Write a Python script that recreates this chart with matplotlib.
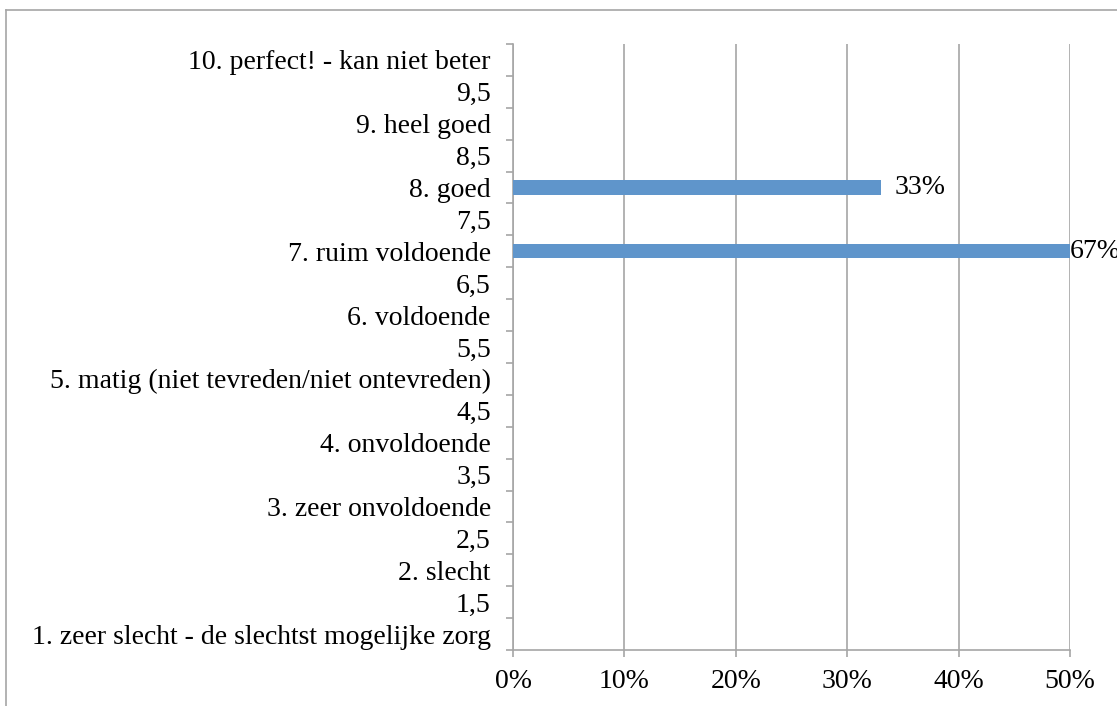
import matplotlib.pyplot as plt
from matplotlib.lines import Line2D
from matplotlib.ticker import FixedLocator, PercentFormatter

categories = [
    "1. zeer slecht - de slechtst mogelijke zorg",
    "1,5",
    "2. slecht",
    "2,5",
    "3. zeer onvoldoende",
    "3,5",
    "4. onvoldoende",
    "4,5",
    "5. matig (niet tevreden/niet ontevreden)",
    "5,5",
    "6. voldoende",
    "6,5",
    "7. ruim voldoende",
    "7,5",
    "8. goed",
    "8,5",
    "9. heel goed",
    "9,5",
    "10. perfect! - kan niet beter",
]
shares = [0, 0, 0, 0, 0, 0, 0, 0, 0, 0, 0, 0, 0.67, 0, 0.33, 0, 0, 0, 0]
x_max = 0.5


def main():
    plt.rcParams["font.family"] = ["Liberation Serif", "DejaVu Serif"]
    plt.rcParams["font.size"] = 20

    fig = plt.figure(figsize=(11.17, 7.06), dpi=100)
    ax = fig.add_axes([0.4593, 0.0793, 0.4987, 0.8584])

    pos = list(range(len(categories)))
    ax.barh(pos, shares, height=0.45, color="#5f95cb", zorder=3)

    for y, v in zip(pos, shares):
        if v <= 0:
            continue
        if v > x_max:
            ax.text(x_max, y, f"{v:.0%}", va="center", ha="left", clip_on=False)
        else:
            ax.annotate(f"{v:.0%}", (v, y), xytext=(10, 0),
                        textcoords="offset points", va="center", ha="left")

    ax.set_xlim(0, x_max)
    ax.set_ylim(-0.5, len(categories) - 0.5)
    ax.set_xticks([0, 0.1, 0.2, 0.3, 0.4, 0.5])
    ax.xaxis.set_major_formatter(PercentFormatter(1.0, decimals=0))
    ax.set_yticks(pos)
    ax.set_yticklabels(categories)
    ax.yaxis.set_minor_locator(FixedLocator([p - 0.5 for p in pos] + [pos[-1] + 0.5]))

    grey = "#a6a6a6"
    ax.grid(axis="x", color=grey, linewidth=1.2, zorder=0)
    ax.tick_params(axis="y", which="major", length=0, pad=16)
    ax.tick_params(axis="y", which="minor", length=5, color=grey, width=1.2)
    ax.tick_params(axis="x", length=5, color=grey, width=1.2, pad=9)
    for side in ("top", "right"):
        ax.spines[side].set_visible(False)
    for side in ("left", "bottom"):
        ax.spines[side].set_color(grey)
        ax.spines[side].set_linewidth(1.2)

    # outer chart frame
    fx = 6 / 1117
    fy = 1 - 10 / 706
    fig.add_artist(Line2D([fx, fx], [0, fy], color=grey, linewidth=1.2))
    fig.add_artist(Line2D([fx, 1], [fy, fy], color=grey, linewidth=1.2))

    fig.savefig("out.png", dpi=100)


if __name__ == "__main__":
    main()
